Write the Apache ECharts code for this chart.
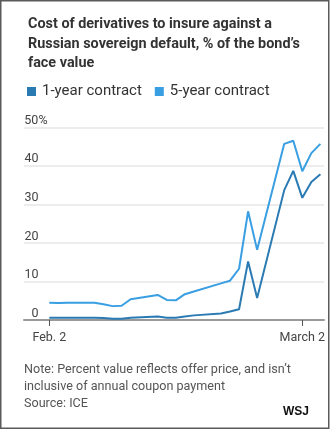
<!DOCTYPE html>
<html>
<head>
<meta charset="utf-8">
<script src="https://cdn.jsdelivr.net/npm/echarts@6/dist/echarts.min.js"></script>
<style>
  html, body { margin: 0; padding: 0; background: #fff; }
  #chart { width: 331px; height: 431px; }
</style>
</head>
<body>
<div id="chart"></div>
<script>
// Trading days, Feb. 2 – March 4
const dates = [
  '2022-02-02', '2022-02-03', '2022-02-04', '2022-02-07', '2022-02-08',
  '2022-02-09', '2022-02-10', '2022-02-11', '2022-02-14', '2022-02-15',
  '2022-02-16', '2022-02-17', '2022-02-18', '2022-02-21', '2022-02-22',
  '2022-02-23', '2022-02-24', '2022-02-25', '2022-02-28', '2022-03-01',
  '2022-03-02', '2022-03-03', '2022-03-04'
];
const oneYear = [
  0.6, 0.6, 0.6, 0.6, 0.5,
  0.3, 0.3, 0.6, 0.9, 0.6,
  0.6, 0.9, 1.2, 1.7, 2.2,
  2.8, 15.2, 5.7, 33.7, 38.7,
  31.7, 35.8, 37.8
];
const fiveYear = [
  4.5, 4.4, 4.5, 4.5, 4.1,
  3.6, 3.7, 5.4, 6.5, 5.2,
  5.1, 6.7, 7.4, 9.5, 10.2,
  13.3, 28.2, 18.2, 45.7, 46.5,
  38.6, 43.3, 45.7
];
const seriesNames = ['1-year contract', '5-year contract'];
const xTickDates = ['2022-02-02', '2022-03-02'];
const xTickLabels = ['Feb. 2', 'March 2'];
const yTicks = [0, 10, 20, 30, 40, 50];

// x positions are whole days counted from the first date
const DAY = 86400000;
const toTime = s => {
  const p = s.split('-').map(Number);
  return Date.UTC(p[0], p[1] - 1, p[2]);
};
const start = toTime(dates[0]);
const dayOf = s => Math.round((toTime(s) - start) / DAY);
const pairs = vals => dates.map((d, i) => [dayOf(d), vals[i]]);
const tickDays = xTickDates.map(dayOf);

const chart = echarts.init(document.getElementById('chart'), null, { renderer: 'canvas' });

const FONT = 'Roboto, "Noto Sans", sans-serif';

chart.setOption({
  backgroundColor: '#fff',
  animation: false,
  title: {
    text: 'Cost of derivatives to insure against a\nRussian sovereign default, % of the bond\u2019s\nface value',
    left: 23,
    top: 10,
    textStyle: {
      fontFamily: FONT,
      fontSize: 14.4,
      fontWeight: 'bold',
      color: '#333',
      lineHeight: 19.3
    }
  },
  legend: {
    data: seriesNames,
    left: 22,
    top: 79,
    icon: 'rect',
    itemWidth: 9,
    itemHeight: 9,
    itemGap: 13,
    textStyle: { fontFamily: FONT, fontSize: 15, color: '#333', padding: [0, 0, 0, 1] }
  },
  grid: { left: 24, right: 7, top: 127.3, bottom: 111, containLabel: false },
  xAxis: {
    type: 'value',
    min: -2.8,
    max: 30.4,
    splitLine: { show: false },
    axisLine: { show: true, lineStyle: { color: '#999', width: 2 } },
    axisTick: {
      show: true,
      customValues: tickDays,
      length: 6,
      lineStyle: { color: '#555', width: 1 }
    },
    axisLabel: {
      customValues: tickDays,
      formatter: v => {
        const i = tickDays.indexOf(v);
        return i >= 0 ? xTickLabels[i] : '';
      },
      margin: 11,
      fontFamily: FONT,
      fontSize: 12.5,
      color: '#444'
    }
  },
  yAxis: {
    type: 'value',
    min: yTicks[0],
    max: yTicks[yTicks.length - 1],
    interval: 10,
    axisLine: { show: false },
    axisTick: { show: false },
    splitLine: { lineStyle: { color: '#ececec', width: 2 } },
    axisLabel: {
      inside: true,
      margin: 0,
      verticalAlign: 'bottom',
      padding: [0, 0, 0, 0],
      formatter: v => (v === yTicks[yTicks.length - 1] ? '{n|' + v + '}{p|%}' : '{n|' + v + '}'),
      rich: {
        n: { width: 14.5, align: 'right', fontFamily: FONT, fontSize: 12.5, color: '#444' },
        p: { fontFamily: FONT, fontSize: 12.5, color: '#444' }
      }
    }
  },
  series: [
    {
      name: seriesNames[0],
      type: 'line',
      data: pairs(oneYear),
      showSymbol: false,
      symbol: 'none',
      lineStyle: { color: '#2a7ab4', width: 2 },
      itemStyle: { color: '#2a7ab4' },
      z: 3
    },
    {
      name: seriesNames[1],
      type: 'line',
      data: pairs(fiveYear),
      showSymbol: false,
      symbol: 'none',
      lineStyle: { color: '#399fe2', width: 2 },
      itemStyle: { color: '#399fe2' },
      z: 2
    }
  ],
  graphic: [
    {
      type: 'rect',
      shape: { x: 0.75, y: 0.75, width: 328, height: 427.5 },
      style: { fill: null, stroke: '#5a5a5a', lineWidth: 1.5 },
      silent: true
    },
    {
      type: 'text',
      left: 24,
      top: 361,
      style: {
        text: 'Note: Percent value reflects offer price, and isn\u2019t\ninclusive of annual coupon payment\nSource: ICE',
        fontFamily: FONT,
        fontSize: 12.6,
        lineHeight: 17,
        fill: '#555'
      }
    },
    {
      type: 'text',
      left: 283,
      top: 406,
      style: {
        text: 'WSJ',
        fontFamily: '"Liberation Sans", Arial, sans-serif',
        fontSize: 12,
        fontWeight: 'bold',
        fill: '#111',
        shadowColor: 'rgba(0,0,0,0.35)',
        shadowBlur: 2,
        shadowOffsetX: 1,
        shadowOffsetY: 1
      }
    }
  ]
});
</script>
</body>
</html>
